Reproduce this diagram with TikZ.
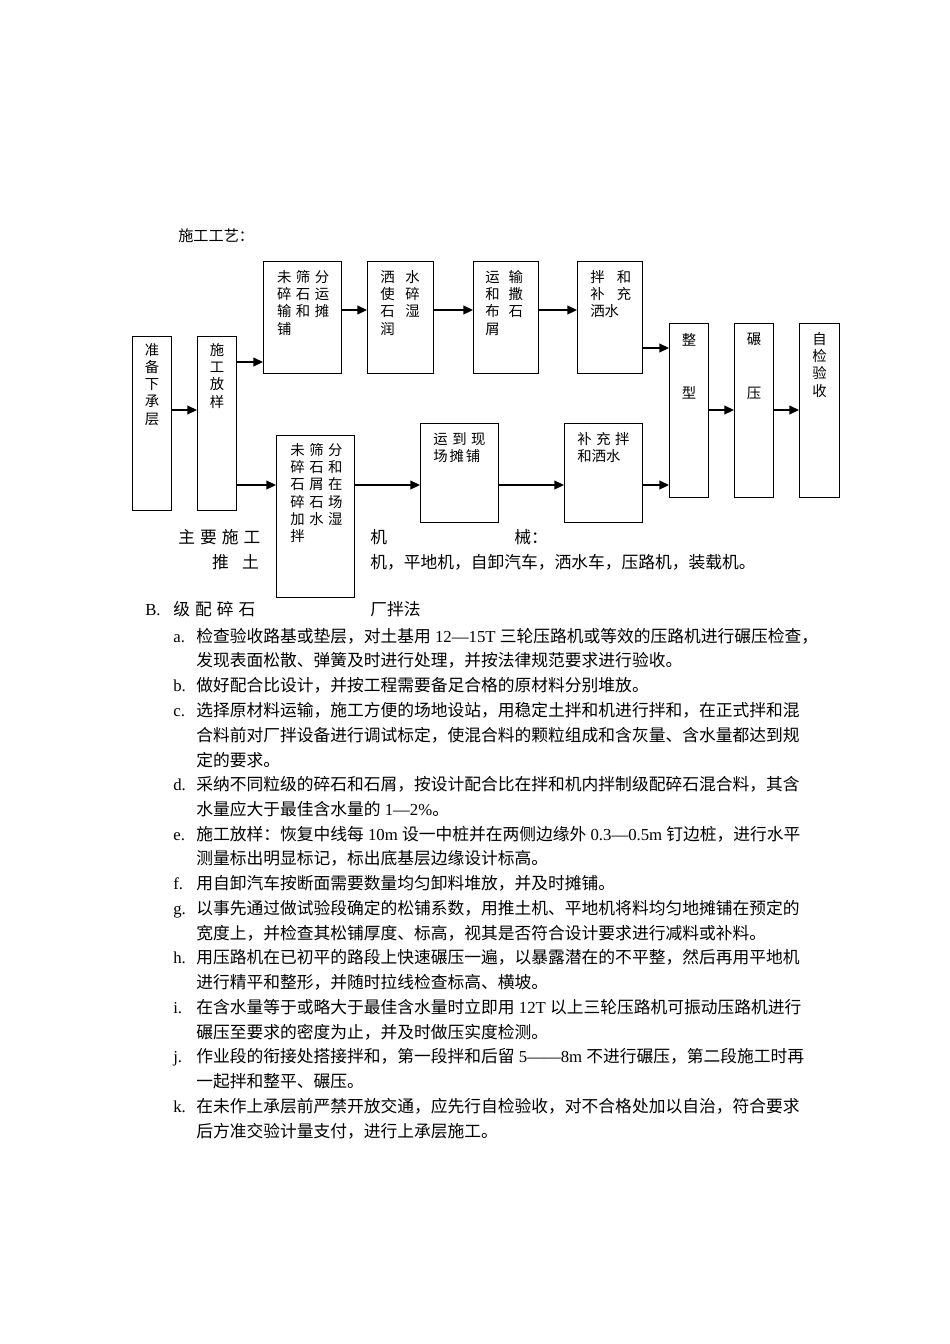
\documentclass[tikz,border=0pt]{standalone}
\usepackage{fontspec}
\setmainfont{Liberation Serif}
\newfontfamily\cjk{Noto Sans CJK SC}
\usetikzlibrary{arrows.meta,positioning,calc}

\newdimen\pxu \pxu=0.6266pt
\newcommand\gp[1]{\hspace{#1\pxu}}
\newcommand\lat[1]{{\rmfamily #1}}

\begin{document}
\begin{tikzpicture}[
  x=0.6266pt, y=-0.6266pt,
  font=\cjk\fontsize{9}{10.8}\selectfont,
  >={Triangle[length=6pt,width=5.5pt]},
  box/.style n args={2}{draw, line width=0.8pt, anchor=north west, inner sep=0pt,
    minimum width=#1*0.6266pt, minimum height=#2*0.6266pt},
  txt/.style={anchor=north west, inner sep=0pt, align=left},
  vtxt/.style={anchor=north, inner sep=0pt, align=center},
  arrow/.style={->, line width=0.8pt},
  line/.style={anchor=west, inner sep=0pt, font=\cjk\fontsize{10.5}{12}\selectfont},
  lbl/.style={anchor=base west, inner sep=0pt, font=\rmfamily\fontsize{10.5}{12}\selectfont}
]
\path[fill=white] (0,0) rectangle (950,1344);

\node[anchor=west, inner sep=0pt, font=\cjk\fontsize{9.5}{11}\selectfont] (title) at (178,236) {施工工艺：};

% boxes
\node[box={39}{174}] (prep)   at (132,336) {};
\node[box={39}{174}] (stake)  at (197,336) {};
\node[box={78}{112}] (topA)   at (263,261) {};
\node[box={66}{112}] (topB)   at (367,261) {};
\node[box={65}{112}] (topC)   at (473,261) {};
\node[box={65}{112}] (topD)   at (577,261) {};
\node[box={78}{162}] (lowA)   at (276,435) {};
\node[box={78}{99}]  (haul)   at (420,423) {};
\node[box={78}{99}]  (mixw)   at (564,423) {};
\node[box={39}{174}] (shape)  at (669,323) {};
\node[box={39}{174}] (roll)   at (734,323) {};
\node[box={40}{174}] (accept) at (799,323) {};

% box texts
\node[vtxt] (prepT)  at (prep.north |- 0,343)  {准\\备\\下\\承\\层};
\node[vtxt] (stakeT) at (stake.north |- 0,343) {施\\工\\放\\样};
\node[txt] (topAT) at (276.7,270) {未\gp{4.6}筛\gp{4.6}分\\碎\gp{4.6}石\gp{4.6}运\\输\gp{4.6}和\gp{4.6}摊\\铺};
\node[txt] (topBT) at (380,270) {洒\gp{10.6}水\\使\gp{10.6}碎\\石\gp{10.6}湿\\润};
\node[txt] (topCT) at (485,270) {运\gp{9}输\\和\gp{9}撒\\布\gp{9}石\\屑};
\node[txt] (topDT) at (590,270) {拌\gp{12.3}和\\补\gp{12.3}充\\洒水};
\node[txt] (lowAT) at (290,443) {未\gp{4.6}筛\gp{4.6}分\\碎\gp{4.6}石\gp{4.6}和\\石\gp{4.6}屑\gp{4.6}在\\碎\gp{4.6}石\gp{4.6}场\\加\gp{4.6}水\gp{4.6}湿\\拌};
\node[txt] (haulT) at (433,432) {运\gp{4.6}到\gp{4.6}现\\场\gp{1.9}摊\gp{1.9}铺};
\node[txt] (mixwT) at (577,432) {补\gp{4.6}充\gp{4.6}拌\\和洒水};
\node[vtxt] (shapeT)  at (shape.north |- 0,333)  {整\\[36\pxu]型};
\node[vtxt] (rollT)   at (roll.north |- 0,333)   {碾\\[36\pxu]压};
\node[vtxt] (acceptT) at (accept.north |- 0,332) {自\\检\\验\\收};

% connectors
\draw[arrow] (prep.east |- 0,410)  -- (stake.west |- 0,410);
\draw[arrow] (stake.east |- 0,362) -- (topA.west |- 0,362);
\draw[arrow] (stake.east |- 0,485) -- (lowA.west |- 0,485);
\draw[arrow] (topA.east |- 0,310)  -- (topB.west |- 0,310);
\draw[arrow] (topB.east |- 0,310)  -- (topC.west |- 0,310);
\draw[arrow] (topC.east |- 0,310)  -- (topD.west |- 0,310);
\draw[arrow] (topD.east |- 0,348)  -- (shape.west |- 0,348);
\draw[arrow] (lowA.east |- 0,485)  -- (haul.west |- 0,485);
\draw[arrow] (haul.east |- 0,485)  -- (mixw.west |- 0,485);
\draw[arrow] (mixw.east |- 0,485)  -- (shape.west |- 0,485);
\draw[arrow] (shape.east |- 0,410) -- (roll.west |- 0,410);
\draw[arrow] (roll.east |- 0,410)  -- (accept.west |- 0,410);

% machinery lines
\node[line] (mach1) at (178,537) {主\gp{5}要\gp{5}施\gp{5}工};
\node[line] (mach2) at (370,537) {机};
\node[line] (mach3) at (514,537) {械：};
\node[line] (dozer1) at (211.7,562) {推\gp{13.3}土};
\node[line] (dozer2) at (370,562) {机，平地机，自卸汽车，洒水车，压路机，装载机。};
\node[line] (secB1) at (173,609) {级\gp{5}配\gp{5}碎\gp{5}石};
\node[lbl]  (secB)  at (145,0 |- secB1.base) {B.};
\node[line] (secB2) at (370,609) {厂拌法};

% item list
\node[line] (ta1) at (196,636) {检查验收路基或垫层，对土基用\lat{ 12—15T }三轮压路机或等效的压路机进行碾压检查，};
\node[line] (ta2) at (196,660.75) {发现表面松散、弹簧及时进行处理，并按法律规范要求进行验收。};
\node[line] (tb1) at (196,685.5) {做好配合比设计，并按工程需要备足合格的原材料分别堆放。};
\node[line] (tc1) at (196,710.25) {选择原材料运输，施工方便的场地设站，用稳定土拌和机进行拌和，在正式拌和混};
\node[line] (tc2) at (196,735) {合料前对厂拌设备进行调试标定，使混合料的颗粒组成和含灰量、含水量都达到规};
\node[line] (tc3) at (196,759.75) {定的要求。};
\node[line] (td1) at (196,784.5) {采纳不同粒级的碎石和石屑，按设计配合比在拌和机内拌制级配碎石混合料，其含};
\node[line] (td2) at (196,809.25) {水量应大于最佳含水量的\lat{ 1—2\%}。};
\node[line] (te1) at (196,834) {施工放样：恢复中线每\lat{ 10m }设一中桩并在两侧边缘外\lat{ 0.3—0.5m }钉边桩，进行水平};
\node[line] (te2) at (196,858.75) {测量标出明显标记，标出底基层边缘设计标高。};
\node[line] (tf1) at (196,883.5) {用自卸汽车按断面需要数量均匀卸料堆放，并及时摊铺。};
\node[line] (tg1) at (196,908.25) {以事先通过做试验段确定的松铺系数，用推土机、平地机将料均匀地摊铺在预定的};
\node[line] (tg2) at (196,933) {宽度上，并检查其松铺厚度、标高，视其是否符合设计要求进行减料或补料。};
\node[line] (th1) at (196,957.75) {用压路机在已初平的路段上快速碾压一遍，以暴露潜在的不平整，然后再用平地机};
\node[line] (th2) at (196,982.5) {进行精平和整形，并随时拉线检查标高、横坡。};
\node[line] (ti1) at (196,1007.25) {在含水量等于或略大于最佳含水量时立即用\lat{ 12T }以上三轮压路机可振动压路机进行};
\node[line] (ti2) at (196,1032) {碾压至要求的密度为止，并及时做压实度检测。};
\node[line] (tj1) at (196,1056.75) {作业段的衔接处搭接拌和，第一段拌和后留\lat{ 5——8m }不进行碾压，第二段施工时再};
\node[line] (tj2) at (196,1081.5) {一起拌和整平、碾压。};
\node[line] (tk1) at (196,1106.25) {在未作上承层前严禁开放交通，应先行自检验收，对不合格处加以自治，符合要求};
\node[line] (tk2) at (196,1131) {后方准交验计量支付，进行上承层施工。};

% item labels
\node[lbl] (la) at (173,0 |- ta1.base) {a.};
\node[lbl] (lb) at (173,0 |- tb1.base) {b.};
\node[lbl] (lc) at (173,0 |- tc1.base) {c.};
\node[lbl] (ld) at (173,0 |- td1.base) {d.};
\node[lbl] (le) at (173,0 |- te1.base) {e.};
\node[lbl] (lf) at (173,0 |- tf1.base) {f.};
\node[lbl] (lg) at (173,0 |- tg1.base) {g.};
\node[lbl] (lh) at (173,0 |- th1.base) {h.};
\node[lbl] (li) at (173,0 |- ti1.base) {i.};
\node[lbl] (lj) at (173,0 |- tj1.base) {j.};
\node[lbl] (lk) at (173,0 |- tk1.base) {k.};
\end{tikzpicture}
\end{document}
